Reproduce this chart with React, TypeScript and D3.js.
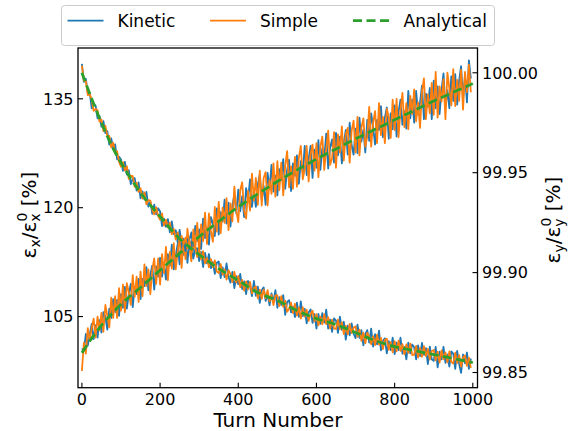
import React from "react";
import * as d3 from "d3";

// ---------- DATA ----------
const noisyTurnStep = 5; // samples every 5 turns, 0..995
const kineticX = [
  100.6,100.3,102.6,101.0,102.5,104.0,101.9,103.8,102.1,104.5,
  102.8,105.6,105.0,103.2,106.1,104.8,107.4,105.6,107.3,105.1,
  108.1,106.2,109.1,106.1,108.2,109.5,106.3,109.1,108.1,110.2,
  107.4,110.2,109.2,111.8,108.6,110.8,112.0,108.7,111.9,110.5,
  113.1,110.5,112.4,110.1,113.6,112.0,114.9,111.5,113.4,115.0,
  112.2,115.7,113.5,115.4,112.4,115.6,116.6,114.1,117.5,115.4,
  117.0,114.3,118.5,115.8,117.3,114.9,118.7,117.8,116.1,119.9,
  116.3,119.4,118.1,121.1,117.8,120.7,117.4,120.3,121.8,119.2,
  122.5,119.5,121.6,118.7,122.7,121.0,123.9,120.1,122.3,120.1,
  123.2,124.6,121.1,123.0,120.4,124.8,122.6,125.9,122.2,124.4,
  121.7,125.3,123.8,126.7,122.6,125.2,126.6,122.3,126.1,124.4,
  127.2,123.3,126.4,124.8,128.5,124.5,126.7,128.5,124.1,128.0,
  125.5,129.3,125.2,128.2,126.8,130.2,125.4,128.3,129.4,126.2,
  130.3,127.2,129.8,126.1,129.0,130.7,127.3,131.7,128.6,127.3,
  130.9,127.5,132.4,129.1,130.7,127.6,132.1,129.2,133.0,131.1,
  128.7,132.1,130.7,134.0,129.7,132.4,133.8,129.5,133.0,130.8,
  134.1,129.8,133.2,134.9,131.4,133.3,130.9,136.1,132.3,134.9,
  131.7,136.1,132.8,134.5,136.8,132.2,135.7,133.9,136.5,132.2,
  137.5,133.7,136.7,132.9,136.2,138.5,133.8,136.2,133.7,138.1,
  134.7,138.4,134.2,137.5,139.5,135.1,138.2,134.5,140.3,137.8,
];
const simpleX = [
  97.5,101.4,99.9,103.4,101.7,103.4,104.7,102.1,105.0,103.1,
  105.5,102.9,106.6,105.1,103.5,107.6,104.8,107.8,104.8,108.9,
  105.8,109.4,105.6,109.6,108.3,106.6,110.7,107.7,110.5,107.0,
  111.2,107.8,112.2,109.2,111.5,108.1,111.4,113.0,109.5,113.0,
  109.4,113.6,111.0,114.6,110.0,113.9,111.6,115.1,111.5,113.9,
  116.0,111.7,115.4,112.9,117.1,114.5,112.6,117.0,114.4,117.9,
  113.8,117.7,115.4,119.3,115.0,119.2,116.8,115.3,120.1,116.7,
  120.8,116.5,120.0,117.9,121.3,116.9,120.6,118.1,122.9,119.6,
  118.0,122.4,123.5,119.6,118.5,122.3,119.6,124.7,121.0,124.1,
  120.4,125.1,120.3,124.1,124.9,120.3,123.8,121.9,126.1,121.5,
  126.4,122.4,126.2,121.7,125.7,127.8,122.8,125.7,122.6,127.0,
  122.9,126.9,128.5,123.9,125.3,128.5,123.6,127.4,128.7,125.1,
  128.9,124.2,128.4,129.8,125.2,128.0,130.6,125.9,126.8,130.4,
  125.5,130.1,127.6,131.2,126.5,130.1,131.0,126.2,130.6,132.0,
  127.6,132.5,127.2,131.0,132.3,128.4,129.8,133.9,128.4,131.8,
  133.3,128.9,134.4,130.0,132.5,128.9,133.6,132.5,129.6,134.9,
  130.7,135.0,129.7,133.5,135.8,131.1,134.4,130.8,135.4,132.9,
  136.3,131.9,134.5,131.0,136.0,137.8,132.2,135.6,133.0,137.2,
  132.8,138.7,132.4,136.7,134.6,137.7,132.2,138.6,136.4,134.1,
  139.1,134.0,137.6,134.7,139.0,133.5,138.7,135.9,139.7,135.9,
];
const kineticY = [
  100.0045,99.9954,99.9970,99.9900,99.9900,99.9822,99.9842,99.9836,99.9772,99.9784,
  99.9730,99.9758,99.9698,99.9708,99.9640,99.9672,99.9622,99.9642,99.9566,99.9580,
  99.9566,99.9509,99.9554,99.9491,99.9512,99.9443,99.9470,99.9473,99.9410,99.9451,
  99.9372,99.9406,99.9366,99.9404,99.9330,99.9354,99.9294,99.9340,99.9292,99.9322,
  99.9306,99.9233,99.9270,99.9229,99.9268,99.9201,99.9256,99.9193,99.9212,99.9151,
  99.9214,99.9140,99.9170,99.9108,99.9166,99.9116,99.9156,99.9070,99.9116,99.9122,
  99.9058,99.9103,99.9028,99.9099,99.9046,99.9093,99.9022,99.9053,99.8994,99.9049,
  99.9056,99.8972,99.9026,99.8978,99.9046,99.8978,99.8950,99.9004,99.8922,99.8982,
  99.8942,99.8994,99.8918,99.8956,99.8892,99.8958,99.8932,99.8882,99.8958,99.8884,
  99.8930,99.8848,99.8912,99.8926,99.8858,99.8892,99.8836,99.8896,99.8854,99.8912,
  99.8824,99.8877,99.8838,99.8887,99.8788,99.8853,99.8862,99.8801,99.8830,99.8777,
  99.8850,99.8778,99.8856,99.8782,99.8818,99.8746,99.8800,99.8816,99.8748,99.8792,
  99.8720,99.8793,99.8744,99.8797,99.8750,99.8815,99.8720,99.8765,99.8704,99.8771,
  99.8760,99.8698,99.8780,99.8714,99.8754,99.8664,99.8734,99.8686,99.8746,99.8694,
  99.8672,99.8740,99.8674,99.8712,99.8636,99.8692,99.8712,99.8650,99.8720,99.8630,
  99.8692,99.8641,99.8710,99.8611,99.8658,99.8671,99.8596,99.8657,99.8612,99.8675,
  99.8592,99.8650,99.8612,99.8674,99.8594,99.8628,99.8566,99.8650,99.8596,99.8640,
  99.8626,99.8566,99.8636,99.8582,99.8648,99.8588,99.8622,99.8542,99.8630,99.8566,
  99.8558,99.8628,99.8526,99.8604,99.8566,99.8628,99.8548,99.8590,99.8530,99.8606,
  99.8594,99.8518,99.8608,99.8544,99.8498,99.8590,99.8546,99.8600,99.8518,99.8570,
];
const simpleY = [
  100.0036,99.9959,99.9958,99.9888,99.9893,99.9866,99.9810,99.9819,99.9812,99.9756,
  99.9766,99.9708,99.9735,99.9683,99.9684,99.9627,99.9650,99.9597,99.9608,99.9554,
  99.9530,99.9553,99.9511,99.9532,99.9468,99.9486,99.9483,99.9429,99.9450,99.9404,
  99.9422,99.9370,99.9401,99.9341,99.9363,99.9360,99.9314,99.9291,99.9327,99.9283,
  99.9264,99.9296,99.9235,99.9265,99.9225,99.9250,99.9192,99.9219,99.9165,99.9201,
  99.9147,99.9184,99.9141,99.9175,99.9120,99.9162,99.9095,99.9128,99.9129,99.9078,
  99.9115,99.9067,99.9107,99.9046,99.9073,99.9026,99.9068,99.9028,99.9061,99.9005,
  99.8998,99.9043,99.8990,99.9016,99.8965,99.9012,99.8993,99.8953,99.9003,99.8950,
  99.8983,99.8927,99.8964,99.8910,99.8956,99.8916,99.8953,99.8896,99.8923,99.8931,
  99.8871,99.8914,99.8869,99.8915,99.8871,99.8912,99.8856,99.8888,99.8837,99.8886,
  99.8887,99.8833,99.8882,99.8829,99.8860,99.8804,99.8819,99.8850,99.8797,99.8844,
  99.8785,99.8826,99.8770,99.8827,99.8780,99.8813,99.8759,99.8793,99.8809,99.8756,
  99.8792,99.8736,99.8780,99.8741,99.8792,99.8742,99.8777,99.8720,99.8764,99.8720,
  99.8718,99.8765,99.8716,99.8751,99.8692,99.8734,99.8691,99.8743,99.8697,99.8724,
  99.8731,99.8678,99.8715,99.8659,99.8700,99.8646,99.8698,99.8681,99.8641,99.8682,
  99.8637,99.8689,99.8640,99.8673,99.8617,99.8663,99.8669,99.8614,99.8652,99.8601,
  99.8657,99.8606,99.8660,99.8608,99.8642,99.8591,99.8641,99.8598,99.8645,99.8587,
  99.8590,99.8633,99.8575,99.8622,99.8579,99.8632,99.8582,99.8618,99.8565,99.8608,
  99.8613,99.8561,99.8604,99.8550,99.8611,99.8566,99.8600,99.8551,99.8606,99.8552,
  99.8545,99.8599,99.8548,99.8587,99.8530,99.8576,99.8585,99.8534,99.8574,99.8523,
];
const analyticTurns = [0,25,50,75,100,150,200,250,300,350,400,450,500,550,600,650,700,750,800,850,900,950,1000];
const analyticX = [100.0,102.0,103.8,105.3,106.7,109.0,111.4,113.7,116.0,118.1,120.1,121.9,123.6,125.2,126.7,128.1,129.5,130.8,132.1,133.4,134.7,135.9,137.1];
const analyticY = [100.000,99.987,99.975,99.964,99.955,99.940,99.928,99.917,99.909,99.902,99.896,99.890,99.886,99.881,99.877,99.874,99.870,99.866,99.863,99.861,99.859,99.857,99.855];

const xTicks = [0, 200, 400, 600, 800, 1000];
const leftTicks = [105, 120, 135];
const rightTicks = [99.85, 99.9, 99.95, 100.0];
const legendLabels = ["Kinetic", "Simple", "Analytical"];

// ---------- LAYOUT ----------
const W = 570, H = 431;
const L = 78, R = 477.5, T = 48, B = 387.7;
const FONT = "DejaVu Sans, sans-serif";
const BLUE = "#1f77b4", ORANGE = "#ff7f0e", GREEN = "#2ca02c";

export default function App() {
  const x = d3.scaleLinear().domain([-10, 1012]).range([L, R]);
  const yL = d3.scaleLinear().domain([95.2, 142.0]).range([B, T]);
  const yR = d3.scaleLinear().domain([99.8424, 100.0124]).range([B, T]);

  const noisy = (vals: number[], ys: d3.ScaleLinear<number, number>) =>
    d3.line<number>().x((_, i) => x(i * noisyTurnStep)).y((v) => ys(v))(vals) || "";
  const smooth = (vals: number[], ys: d3.ScaleLinear<number, number>) =>
    d3.line<number>().x((_, i) => x(analyticTurns[i])).y((v) => ys(v)).curve(d3.curveMonotoneX)(vals) || "";

  const lw = 1.8;
  const dash = "9,4.5";

  const legendItems = [
    { label: legendLabels[0], color: BLUE, lx: 67.5, tx: 117.5, dashed: false },
    { label: legendLabels[1], color: ORANGE, lx: 210, tx: 260, dashed: false },
    { label: legendLabels[2], color: GREEN, lx: 353, tx: 403.5, dashed: true },
  ];

  return (
    <svg width={W} height={H} style={{ position: "absolute", left: 0, top: 0, background: "#fff" }} fontFamily={FONT}>
      <defs>
        <clipPath id="plotclip">
          <rect x={L} y={T} width={R - L} height={B - T} />
        </clipPath>
      </defs>
      <g clipPath="url(#plotclip)">
        <path d={noisy(kineticX, yL)} fill="none" stroke={BLUE} strokeWidth={lw} strokeLinejoin="round" />
        <path d={noisy(simpleX, yL)} fill="none" stroke={ORANGE} strokeWidth={lw} strokeLinejoin="round" />
        <path d={smooth(analyticX, yL)} fill="none" stroke={GREEN} strokeWidth={2.8} strokeDasharray={dash} />
        <path d={noisy(kineticY, yR)} fill="none" stroke={BLUE} strokeWidth={lw} strokeLinejoin="round" />
        <path d={noisy(simpleY, yR)} fill="none" stroke={ORANGE} strokeWidth={lw} strokeLinejoin="round" />
        <path d={smooth(analyticY, yR)} fill="none" stroke={GREEN} strokeWidth={2.8} strokeDasharray={dash} />
      </g>

      {/* frame */}
      <rect x={L} y={T} width={R - L} height={B - T} fill="none" stroke="#000" strokeWidth={1.3} />

      {/* x ticks */}
      {xTicks.map((t) => (
        <g key={"x" + t}>
          <line x1={x(t)} x2={x(t)} y1={B} y2={B - 5} stroke="#000" strokeWidth={1.1} />
          <text x={x(t)} y={404.5} fontSize={16} textAnchor="middle" fill="#000">{t}</text>
        </g>
      ))}
      {/* left ticks */}
      {leftTicks.map((t) => (
        <g key={"l" + t}>
          <line x1={L} x2={L + 5} y1={yL(t)} y2={yL(t)} stroke="#000" strokeWidth={1.1} />
          <text x={73.5} y={yL(t) + 5.8} fontSize={16} textAnchor="end" fill="#000">{t}</text>
        </g>
      ))}
      {/* right ticks */}
      {rightTicks.map((t) => (
        <g key={"r" + t}>
          <line x1={R} x2={R - 5} y1={yR(t)} y2={yR(t)} stroke="#000" strokeWidth={1.1} />
          <text x={482} y={yR(t) + 5.8} fontSize={16} textAnchor="start" fill="#000">{t.toFixed(2)}</text>
        </g>
      ))}

      {/* axis labels */}
      <text x={278} y={427} fontSize={20} textAnchor="middle" fill="#000">Turn Number</text>
      <text transform={`translate(36,215) rotate(-90)`} fontSize={20} textAnchor="middle" fill="#000">
        ε<tspan fontSize={14} dy={4}>x</tspan><tspan dy={-4}>/ε</tspan><tspan fontSize={14} dy={4}>x</tspan><tspan fontSize={14} dx={-8} dy={-13}>0</tspan><tspan dy={9}> [%]</tspan>
      </text>
      <text transform={`translate(560,220) rotate(-90)`} fontSize={20} textAnchor="middle" fill="#000">
        ε<tspan fontSize={14} dy={4}>y</tspan><tspan dy={-4}>/ε</tspan><tspan fontSize={14} dy={4}>y</tspan><tspan fontSize={14} dx={-8} dy={-13}>0</tspan><tspan dy={9}> [%]</tspan>
      </text>

      {/* legend */}
      <rect x={61.5} y={5.5} width={433} height={40} rx={3} ry={3} fill="#fff" fillOpacity={0.8} stroke="#cccccc" strokeWidth={1} />
      {legendItems.map((it) => (
        <g key={it.label}>
          <line x1={it.lx} x2={it.lx + 36} y1={20.7} y2={20.7} stroke={it.color}
            strokeWidth={it.dashed ? 2.8 : lw} strokeDasharray={it.dashed ? dash : undefined} />
          <text x={it.tx} y={26.8} fontSize={17} fill="#000">{it.label}</text>
        </g>
      ))}
    </svg>
  );
}
